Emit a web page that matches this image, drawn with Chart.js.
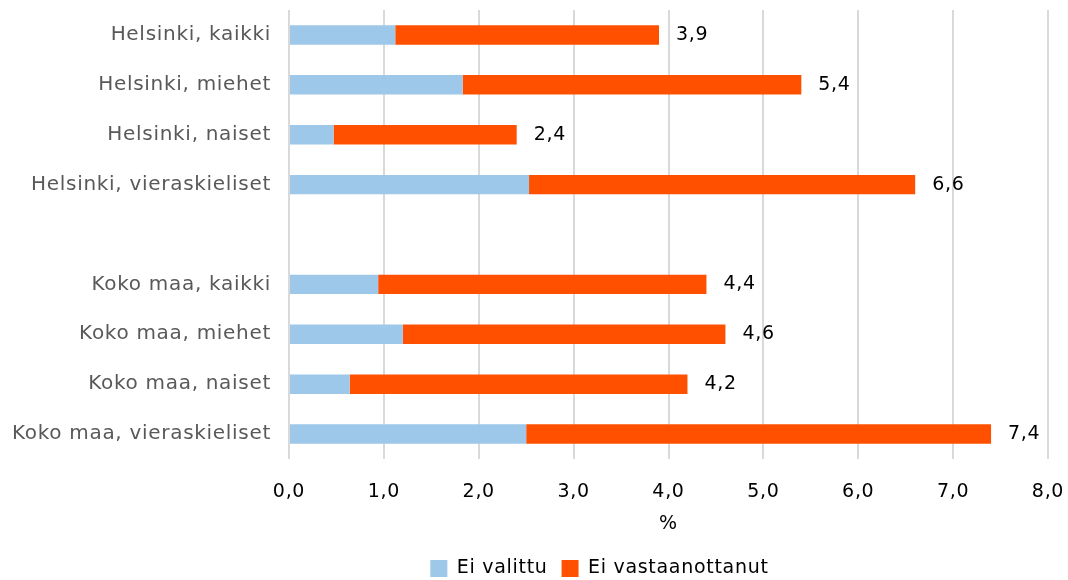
<!DOCTYPE html>
<html>
<head>
<meta charset="utf-8">
<script src="https://cdn.jsdelivr.net/npm/chart.js@4"></script>
<style>
  html, body { margin: 0; padding: 0; background: #fff; }
  #wrap { width: 1068px; height: 580px; }
</style>
</head>
<body>
<div id="wrap"><canvas id="barChart" width="1068" height="580"></canvas></div>
<script>
// categories (empty one makes the gap between the groups)
var ryhmat = ['Helsinki, kaikki', 'Helsinki, miehet', 'Helsinki, naiset', 'Helsinki, vieraskieliset', '',
              'Koko maa, kaikki', 'Koko maa, miehet', 'Koko maa, naiset', 'Koko maa, vieraskieliset'];
var eiValittu       = [1.12, 1.83, 0.47, 2.53, null, 0.94, 1.20, 0.64, 2.50];
var eiVastaanottanut = [2.78, 3.57, 1.93, 4.07, null, 3.46, 3.40, 3.56, 4.90];
var sarjat = ['Ei valittu', 'Ei vastaanottanut'];
var xTicks = [0, 1, 2, 3, 4, 5, 6, 7, 8];

var fontti = "'DejaVu Sans', sans-serif";
var vali = '0.7px';

// a bit of letter spacing, the original font is wide
var valiPlugin = {
  id: 'vali',
  beforeInit: function(chart) { chart.ctx.letterSpacing = vali; },
  beforeDraw: function(chart) { chart.ctx.letterSpacing = vali; }
};

// legend sits a bit right of the canvas centre in the original
var legendSiirto = {
  id: 'legendSiirto',
  afterLayout: function(chart) {
    chart.legend.left += 66;
    chart.legend.right += 66;
  }
};

// total label at the end of each bar
var summaPlugin = {
  id: 'summat',
  afterDatasetsDraw: function(chart) {
    var ctx = chart.ctx;
    var meta = chart.getDatasetMeta(1);
    ctx.save();
    ctx.font = '19px ' + fontti;
    ctx.fillStyle = '#000';
    ctx.textAlign = 'left';
    ctx.textBaseline = 'middle';
    meta.data.forEach(function(bar, i) {
      if (eiValittu[i] == null) return;
      var summa = (eiValittu[i] + eiVastaanottanut[i]).toFixed(1).replace('.', ',');
      ctx.fillText(summa, bar.x + 17, bar.y);
    });
    ctx.restore();
  }
};

var barChartCanvas = document.getElementById('barChart').getContext('2d');
barChartCanvas.letterSpacing = vali;
var barChart = new Chart(barChartCanvas, {
  type: 'bar',
  data: {
    labels: ryhmat,
    datasets: [
      { label: sarjat[0], data: eiValittu, backgroundColor: '#9DC8EA' },
      { label: sarjat[1], data: eiVastaanottanut, backgroundColor: '#FF5000' }
    ]
  },
  options: {
    indexAxis: 'y',
    responsive: false,
    animation: false,
    layout: { padding: { top: 9, right: 20, left: 0, bottom: -8 } },
    datasets: { bar: { barPercentage: 0.78, categoryPercentage: 0.5 } },
    scales: {
      x: {
        stacked: true,
        min: 0,
        max: 8,
        afterBuildTicks: function(scale) {
          scale.ticks = xTicks.map(function(v) { return { value: v }; });
        },
        afterFit: function(scale) { scale.height = 86; },
        grid: { color: '#D9D9D9', lineWidth: 2, drawTicks: true, tickLength: 22, tickColor: 'rgba(0,0,0,0)' },
        border: { display: false },
        ticks: {
          padding: 0,
          color: '#000',
          font: { family: fontti, size: 19 },
          callback: function(v) { return Number(v).toFixed(1).replace('.', ','); }
        },
        title: {
          display: true,
          text: '%',
          color: '#000',
          font: { family: fontti, size: 19 },
          padding: { top: 0, bottom: 10 }
        }
      },
      y: {
        stacked: true,
        afterFit: function(scale) { scale.width = 289; },
        grid: { display: false, drawTicks: true, tickLength: 18 },
        border: { display: false },
        ticks: {
          padding: 0,
          color: '#595959',
          font: { family: fontti, size: 20, lineHeight: 1 }
        }
      }
    },
    plugins: {
      legend: {
        position: 'bottom',
        labels: {
          boxWidth: 17,
          boxHeight: 17,
          padding: 14,
          color: '#000',
          font: { family: fontti, size: 19 }
        }
      },
      tooltip: { enabled: false }
    }
  },
  plugins: [valiPlugin, legendSiirto, summaPlugin]
});
</script>
</body>
</html>
